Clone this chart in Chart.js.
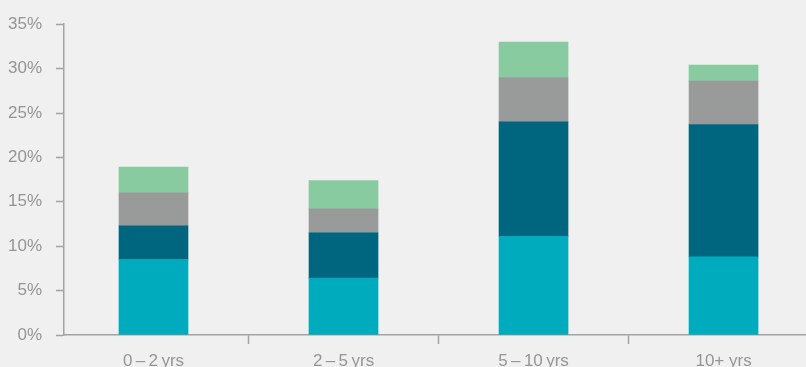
<!DOCTYPE html>
<html>
<head>
<meta charset="utf-8">
<script src="https://cdn.jsdelivr.net/npm/chart.js@4"></script>
<style>
  html, body { margin: 0; padding: 0; background: #eff0ef; }
  #wrap { width: 806px; height: 367px; position: relative; }
</style>
</head>
<body>
<div id="wrap"><canvas id="grafico"></canvas></div>
<script>
// Dados do gráfico
const categorias = ['0\u2009\u2013\u20092\u2009yrs', '2\u2009\u2013\u20095\u2009yrs', '5\u2009\u2013\u200910\u2009yrs', '10+ yrs'];
const serieA = [8.5, 6.4, 11.1, 8.8];   // turquesa
const serieB = [3.8, 5.1, 12.9, 14.9];  // azul escuro
const serieC = [3.7, 2.7, 5.0, 4.9];    // cinza
const serieD = [2.9, 3.2, 4.0, 1.8];    // verde
const yTicks = [0, 5, 10, 15, 20, 25, 30, 35];

const corEixo = '#a2a3a2';
const corTexto = '#949594';
const fonte = "'Liberation Sans', Arial, sans-serif";

function pontos(vals) {
  return vals.map((v, i) => ({ x: i, y: v }));
}

const ctx = document.getElementById('grafico').getContext('2d');
new Chart(ctx, {
  type: 'bar',
  data: {
    datasets: [
      { data: pontos(serieA), backgroundColor: '#00abbd' },
      { data: pontos(serieB), backgroundColor: '#00667f' },
      { data: pontos(serieC), backgroundColor: '#999b9a' },
      { data: pontos(serieD), backgroundColor: '#88cba1' }
    ]
  },
  options: {
    responsive: true,
    maintainAspectRatio: false,
    animation: false,
    layout: { padding: { top: 22, left: 0, right: 0, bottom: 0 } },
    datasets: { bar: { barThickness: 69, borderWidth: 0 } },
    plugins: {
      legend: { display: false },
      tooltip: { enabled: false }
    },
    scales: {
      x: {
        type: 'linear',
        stacked: true,
        offset: false,
        min: -0.471,
        max: 3.434,
        afterBuildTicks: axis => {
          axis.ticks = categorias.flatMap((c, i) =>
            i === 0 ? [{ value: 0 }] : [{ value: i - 0.5 }, { value: i }]);
        },
        afterFit: scale => { scale.height = 32; },
        ticks: {
          autoSkip: false,
          maxRotation: 0,
          padding: 7,
          color: corTexto,
          font: { family: fonte, size: 17 },
          callback: v => Number.isInteger(v) ? categorias[v] : ''
        },
        grid: {
          offset: false,
          drawOnChartArea: false,
          tickLength: 9,
          tickWidth: 1.5,
          tickColor: c => (c.tick && Number.isInteger(c.tick.value)) ? 'transparent' : corEixo
        },
        border: { color: corEixo, width: 1.5 }
      },
      y: {
        stacked: true,
        min: 0,
        max: 35,
        afterBuildTicks: axis => { axis.ticks = yTicks.map(v => ({ value: v })); },
        afterFit: scale => { scale.width = 64; },
        ticks: {
          padding: 14,
          color: corTexto,
          font: { family: fonte, size: 17 },
          callback: v => v + '%'
        },
        grid: {
          drawOnChartArea: false,
          tickLength: 8,
          tickWidth: 1.5,
          tickColor: corEixo
        },
        border: { color: corEixo, width: 1.5 }
      }
    }
  }
});
</script>
</body>
</html>
